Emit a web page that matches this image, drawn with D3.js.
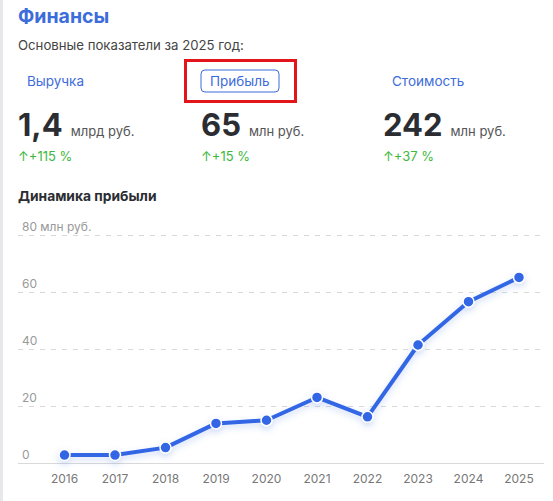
<!DOCTYPE html>
<html>
<head>
<meta charset="utf-8">
<script src="https://cdn.jsdelivr.net/npm/d3@7"></script>
<style>
  body { margin: 0; background: #fff; font-family: Inter, "Noto Sans", sans-serif; }
</style>
</head>
<body>
<div id="chart"></div>
<script>
const width = 553;
const height = 501;

// données
const years = ["2016", "2017", "2018", "2019", "2020", "2021", "2022", "2023", "2024", "2025"];
const profit = [2.8, 2.8, 5.4, 13.9, 15.0, 23.0, 16.2, 41.4, 56.6, 65.1];
const yTicks = [0, 20, 40, 60, 80];

const metricNames = ["Выручка", "Прибыль", "Стоимость"];
const metricValues = ["1,4", "65", "242"];
const metricUnits = ["млрд руб.", "млн руб.", "млн руб."];
const metricGrowth = ["+115 %", "+15 %", "+37 %"];

const blue = "#3d6cdb";
const dark = "#2b2d33";

const svg = d3.select("#chart").append("svg")
    .attr("width", width)
    .attr("height", height);

// bande grise à gauche
svg.append("rect").attr("x", 0).attr("y", 0).attr("width", 3).attr("height", height).attr("fill", "#e6e8ec");

svg.append("text").attr("x", 18).attr("y", 23)
    .attr("font-size", 19.5).attr("font-weight", 700).attr("fill", blue)
    .text("Финансы");

svg.append("text").attr("x", 18).attr("y", 50)
    .attr("font-size", 13.2).attr("fill", "#444")
    .text("Основные показатели за 2025 год:");

// colonnes d'indicateurs
const colX = [18, 201, 383];
const cols = svg.append("g").selectAll("g")
  .data(metricNames)
  .join("g")
    .attr("transform", (d, i) => `translate(${colX[i]},0)`);

cols.filter((d, i) => i === 1).append("rect")
    .attr("x", 0).attr("y", 70).attr("width", 78).attr("height", 22).attr("rx", 4)
    .attr("fill", "#fff").attr("stroke", blue).attr("stroke-width", 1);

cols.append("text")
    .attr("x", 9).attr("y", 86)
    .attr("font-size", 13.5).attr("fill", blue)
    .text(d => d);

cols.append("text")
    .attr("x", 0).attr("y", 136)
    .attr("font-size", 31).attr("font-weight", 700).attr("fill", dark)
    .text((d, i) => metricValues[i])
    .each(function(d, i) {
      const w = this.getComputedTextLength();
      d3.select(this.parentNode).append("text")
        .attr("x", w + 8).attr("y", 136)
        .attr("font-size", 13).attr("fill", "#555")
        .text(metricUnits[i]);
    });

cols.append("text")
    .attr("x", 0).attr("y", 161)
    .attr("font-size", 13).attr("fill", "#3cb83c")
    .text((d, i) => "↑" + metricGrowth[i]);

// cadre rouge
svg.append("rect").attr("x", 185.5).attr("y", 60.5).attr("width", 110).attr("height", 41)
    .attr("fill", "none").attr("stroke", "#e4141b").attr("stroke-width", 3);

svg.append("text").attr("x", 18).attr("y", 201)
    .attr("font-size", 13.8).attr("font-weight", 700).attr("fill", dark)
    .text("Динамика прибыли");

// graphique
const x = d3.scalePoint().domain(years).range([64.5, 519]);
const y = d3.scaleLinear().domain([0, 80]).range([463, 235]);

const defs = svg.append("defs");
const f = defs.append("filter").attr("id", "glow").attr("x", "-20%").attr("y", "-20%").attr("width", "140%").attr("height", "160%");
f.append("feDropShadow").attr("dx", 0).attr("dy", 3).attr("stdDeviation", 3)
    .attr("flood-color", "#3d6cdb").attr("flood-opacity", 0.25);

svg.append("g").selectAll("line")
  .data(yTicks.slice(1))
  .join("line")
    .attr("x1", 18).attr("x2", 544)
    .attr("y1", d => y(d) + 0.5).attr("y2", d => y(d) + 0.5)
    .attr("stroke", "#d9d9d9").attr("stroke-dasharray", "5,6");

svg.append("line").attr("x1", 18).attr("x2", 544).attr("y1", y(0) + 0.5).attr("y2", y(0) + 0.5)
    .attr("stroke", "#d9d9d9");

svg.append("g").selectAll("text")
  .data(yTicks)
  .join("text")
    .attr("x", 22).attr("y", d => y(d) - 4)
    .attr("font-size", 12).attr("fill", "#999")
    .text(d => d === 80 ? "80 млн руб." : d);

svg.append("g").selectAll("text")
  .data(years)
  .join("text")
    .attr("x", d => x(d)).attr("y", 483)
    .attr("text-anchor", "middle")
    .attr("font-size", 12).attr("fill", "#777")
    .text(d => d);

const line = d3.line().x((d, i) => x(years[i])).y(d => y(d));

const g = svg.append("g").attr("filter", "url(#glow)");
g.append("path")
    .datum(profit)
    .attr("d", line)
    .attr("fill", "none").attr("stroke", "#3366e5").attr("stroke-width", 4)
    .attr("stroke-linejoin", "round");

g.selectAll("circle")
  .data(profit)
  .join("circle")
    .attr("cx", (d, i) => x(years[i])).attr("cy", d => y(d))
    .attr("r", 5.5)
    .attr("fill", "#3366e5").attr("stroke", "#fff").attr("stroke-width", 1.5);
</script>
</body>
</html>
